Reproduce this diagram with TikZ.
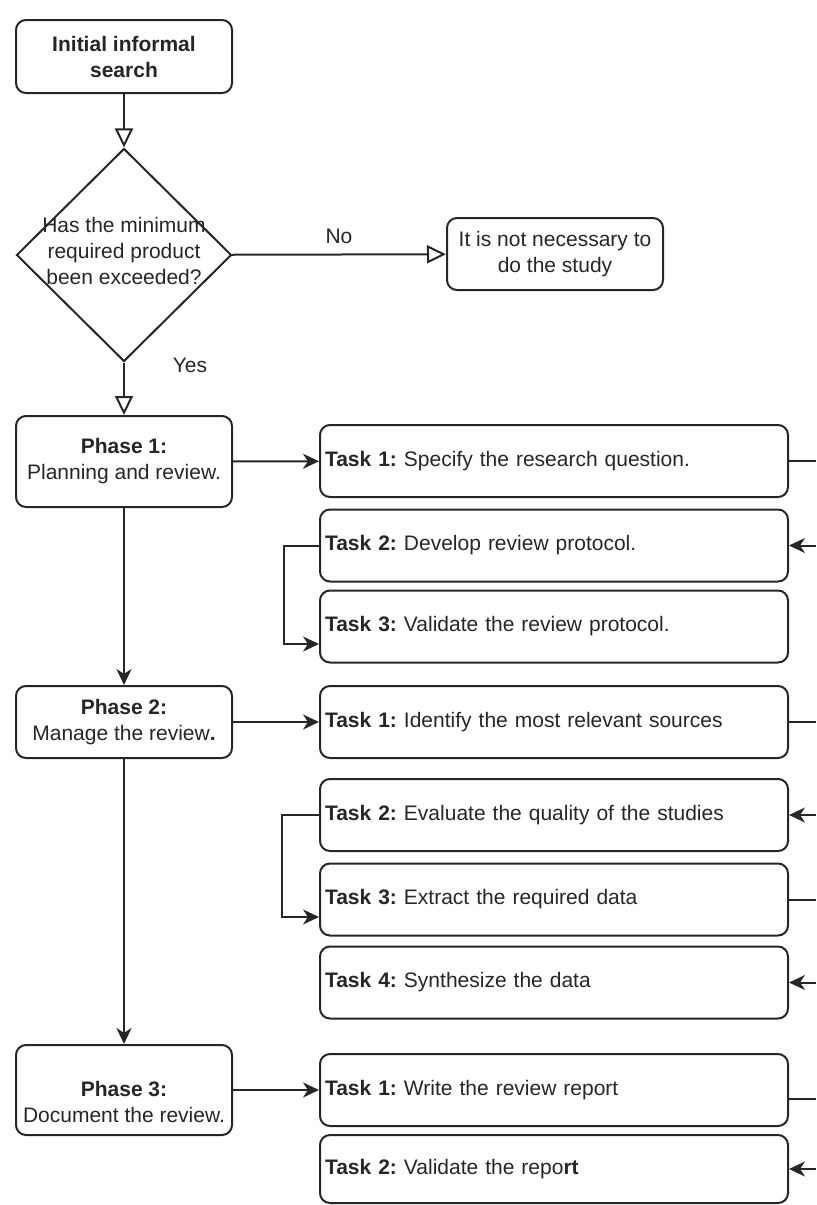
\documentclass[tikz,border=0pt]{standalone}
\usepackage{fontspec}
\setmainfont{Liberation Sans}
\usetikzlibrary{arrows.meta,shapes.geometric}
\definecolor{ink}{HTML}{262626}
\frenchspacing

\begin{document}
\begin{tikzpicture}[x=0.5pt,y=-0.5pt,
        font=\fontsize{10.5}{13}\selectfont,
        every node/.style={text=ink},
        box/.style={draw=ink,line width=1pt,rounded corners=5pt,align=center},
        phase/.style={box,minimum width=108pt,minimum height=36pt},
        task/.style={box,align=left,text width=229pt,inner xsep=2.5pt,minimum height=36pt},
        decision/.style={draw=ink,line width=1pt,diamond,minimum width=107.5pt,minimum height=106.5pt,inner sep=0pt},
        link/.style={draw=ink,line width=1pt},
        branch/.style={link,-{Triangle[open,length=9.5pt,width=9pt]}},
        flow/.style={link,-{Stealth[length=8pt,width=7.5pt,inset=2.5pt]}}]
        \useasboundingbox (0,0) rectangle (816,1205);
        \coordinate (edge) at (816,0);

        \node[phase,minimum height=36.5pt] (init) at (124,56.5) {\textbf{Initial informal}\\\textbf{search}};
        \node[decision] (q) at (124,255) {};
        \node[align=center] (qtext) at (124,251) {Has the minimum\\required product\\been exceeded?};
        \node[box,minimum width=108pt,minimum height=36pt] (stop) at (555,254) {It is not necessary to\\do the study};
        \node (no) at (339,236) {No};
        \node (yes) at (190,365) {Yes};

        \node[phase,minimum height=45.5pt] (p1) at (124,461.5) {\textbf{Phase 1:}\\Planning and review.};
        \node[phase] (p2) at (124,722) {\textbf{Phase 2:}\\Manage the review\textbf{.}};
        \node[phase,minimum height=45pt] (p3) at (124,1090) {};
        \node[align=center] (p3text) at (124,1101.5) {\textbf{Phase 3:}\\Document the review.};

        \node[task] (a1) at (554,461) {\textbf{Task 1:} Specify the research question.};
        \node[task] (a2) at (554,545.5) {\textbf{Task 2:} Develop review protocol.};
        \node[task] (a3) at (554,626.5) {\textbf{Task 3:} Validate the review protocol.};
        \node[task] (b1) at (554,722) {\textbf{Task 1:} Identify the most relevant sources};
        \node[task] (b2) at (554,815) {\textbf{Task 2:} Evaluate the quality of the studies};
        \node[task] (b3) at (554,899.5) {\textbf{Task 3:} Extract the required data};
        \node[task] (b4) at (554,982.5) {\textbf{Task 4:} Synthesize the data};
        \node[task] (c1) at (554,1090) {\textbf{Task 1:} Write the review report};
        \node[task,minimum height=34pt] (c2) at (554,1169) {\textbf{Task 2:} Validate the repo\textbf{rt}};

        \draw[branch] (init) -- (q);
        \draw[branch] (q) -- (stop);
        \draw[branch] (q) -- (p1);
        \draw[flow] (p1) -- (a1);
        \draw[flow] (p1) -- (p2);
        \draw[flow] (p2) -- (b1);
        \draw[flow] (p2) -- (p3);
        \draw[flow] (p3) -- (c1);

        \draw[flow] (a2.west) -- ++(-35,0) |- ([yshift=-8.75pt]a3.west);
        \draw[flow] (b2.west) -- ++(-37,0) |- ([yshift=-8.75pt]b3.west);

        \foreach \t in {a1,b1,b3}
            \draw[link] (\t.east) -- (\t.east -| edge);
        \foreach \t in {a2,b2,b4,c2}
            \draw[flow] (\t.east -| edge) -- (\t.east);
        \draw[link] ([yshift=-4.5pt]c1.east) -- ([yshift=-4.5pt]c1.east -| edge);
    \end{tikzpicture}
\end{document}
